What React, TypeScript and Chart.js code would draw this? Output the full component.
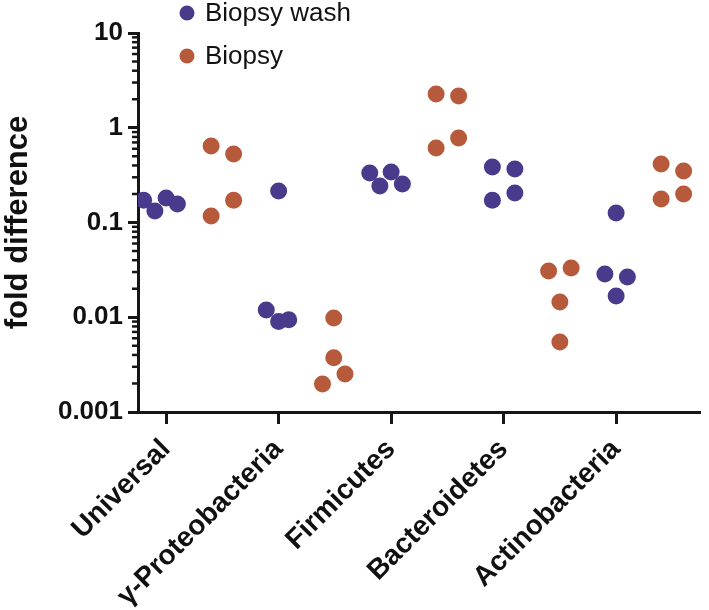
import React, { useEffect, useRef } from "react";
import { Chart, registerables } from "chart.js";

Chart.register(...registerables);

const categories = ["Universal", "γ-Proteobacteria", "Firmicutes", "Bacteroidetes", "Actinobacteria"];
const seriesNames = ["Biopsy wash", "Biopsy"];
const yTicks = [0.001, 0.01, 0.1, 1, 10];
const yTickLabels = ["0.001", "0.01", "0.1", "1", "10"];
const yTitle = "fold difference";

// fold difference, one list of replicates per category
const biopsyWashValues = [
  [0.172, 0.132, 0.181, 0.157],
  [0.0119, 0.215, 0.009, 0.0094],
  [0.333, 0.243, 0.341, 0.255],
  [0.385, 0.172, 0.367, 0.205],
  [0.126, 0.0286, 0.0266, 0.0168],
];
const biopsyValues = [
  [0.642, 0.117, 0.528, 0.172],
  [0.0098, 0.00374, 0.00252, 0.00197],
  [2.27, 0.611, 2.16, 0.78],
  [0.0308, 0.0331, 0.0145, 0.00548],
  [0.414, 0.177, 0.35, 0.2],
];

// horizontal scatter of each replicate (category units, relative to the category tick)
const washJitter = [
  [-0.2, -0.1, 0, 0.1],
  [-0.11, 0, 0, 0.09],
  [-0.19, -0.1, 0, 0.1],
  [-0.1, -0.1, 0.1, 0.1],
  [0, -0.1, 0.1, 0],
];
const biopsyJitter = [
  [0.4, 0.4, 0.6, 0.6],
  [0.49, 0.49, 0.59, 0.39],
  [0.4, 0.4, 0.6, 0.6],
  [0.4, 0.6, 0.5, 0.5],
  [0.4, 0.4, 0.6, 0.6],
];

const WASH = "#4a3a8c";
const BIOPSY = "#b75a3c";
const AXIS = "#161616";
const FONT = "'Liberation Sans', Arial, Helvetica, sans-serif";

const toPoints = (vals: number[][], jit: number[][]) =>
  vals.flatMap((arr, ci) => arr.map((v, k) => ({ x: ci + jit[ci][k], y: v })));

const minorTicksPlugin = {
  id: "minorTicks",
  afterDraw(chart: any) {
    const y = chart.scales.y;
    const ctx = chart.ctx;
    const left = chart.chartArea.left;
    ctx.save();
    ctx.strokeStyle = AXIS;
    ctx.lineWidth = 2.5;
    for (let d = 0; d < yTicks.length - 1; d++) {
      for (let m = 2; m <= 9; m++) {
        const py = y.getPixelForValue(yTicks[d] * m);
        ctx.beginPath();
        ctx.moveTo(left - 6, py);
        ctx.lineTo(left, py);
        ctx.stroke();
      }
    }
    ctx.restore();
  },
};

const legendPlugin = {
  id: "customLegend",
  afterDraw(chart: any) {
    const ctx = chart.ctx;
    const rows = [13, 56];
    ctx.save();
    ctx.font = `26px ${FONT}`;
    ctx.textBaseline = "middle";
    ctx.textAlign = "left";
    chart.data.datasets.forEach((ds: any, i: number) => {
      const cy = rows[i];
      ctx.fillStyle = ds.backgroundColor;
      ctx.beginPath();
      ctx.arc(187, cy, 7.5, 0, Math.PI * 2);
      ctx.fill();
      ctx.fillStyle = "#111";
      ctx.fillText(ds.label, 205, cy + 1);
    });
    ctx.restore();
  },
};

export default function App() {
  const ref = useRef<HTMLCanvasElement | null>(null);
  useEffect(() => {
    if (!ref.current) return;
    Chart.defaults.font.family = FONT;
    const chart = new Chart(ref.current, {
      type: "scatter",
      data: {
        datasets: [
          {
            label: seriesNames[0],
            data: toPoints(biopsyWashValues, washJitter),
            backgroundColor: WASH,
            borderWidth: 0,
            pointRadius: 8.5,
            pointHoverRadius: 8.5,
          },
          {
            label: seriesNames[1],
            data: toPoints(biopsyValues, biopsyJitter),
            backgroundColor: BIOPSY,
            borderWidth: 0,
            pointRadius: 8.5,
            pointHoverRadius: 8.5,
          },
        ],
      },
      options: {
        animation: false,
        responsive: false,
        layout: { padding: { top: 33, right: 1, left: 0, bottom: 0 } },
        plugins: { legend: { display: false }, tooltip: { enabled: false } },
        scales: {
          x: {
            type: "linear",
            min: -0.25,
            max: 4.75,
            afterBuildTicks: (s: any) => {
              s.ticks = categories.map((_, i) => ({ value: i }));
            },
            afterFit: (s: any) => {
              s.height = 198;
            },
            grid: { display: true, drawOnChartArea: false, tickLength: 12, tickWidth: 3, tickColor: AXIS },
            border: { display: true, color: AXIS, width: 3 },
            ticks: {
              autoSkip: false,
              maxRotation: 45,
              minRotation: 45,
              padding: 9,
              color: "#111",
              font: { family: FONT, size: 28, weight: "bold" },
              callback: (_v: any, i: number) => categories[i] ?? "",
            },
          },
          y: {
            type: "logarithmic",
            min: 0.001,
            max: 10,
            afterBuildTicks: (s: any) => {
              s.ticks = yTicks.map((v) => ({ value: v, major: true }));
            },
            afterFit: (s: any) => {
              s.width = 138;
            },
            grid: { display: true, drawOnChartArea: false, tickLength: 10, tickWidth: 3, tickColor: AXIS },
            border: { display: true, color: AXIS, width: 3 },
            ticks: {
              padding: 5,
              color: "#111",
              font: { family: FONT, size: 26, weight: "bold" },
              callback: (_v: any, i: number) => yTickLabels[i] ?? "",
            },
            title: {
              display: true,
              text: yTitle,
              color: "#111",
              font: { family: FONT, size: 31, weight: "bold" },
              padding: { top: 0, bottom: 0 },
            },
          },
        },
      } as any,
      plugins: [minorTicksPlugin, legendPlugin],
    });
    return () => chart.destroy();
  }, []);
  return (
    <div style={{ position: "absolute", left: 0, top: 0, width: 709, height: 610, background: "#fff" }}>
      <canvas ref={ref} width={709} height={610} />
    </div>
  );
}
